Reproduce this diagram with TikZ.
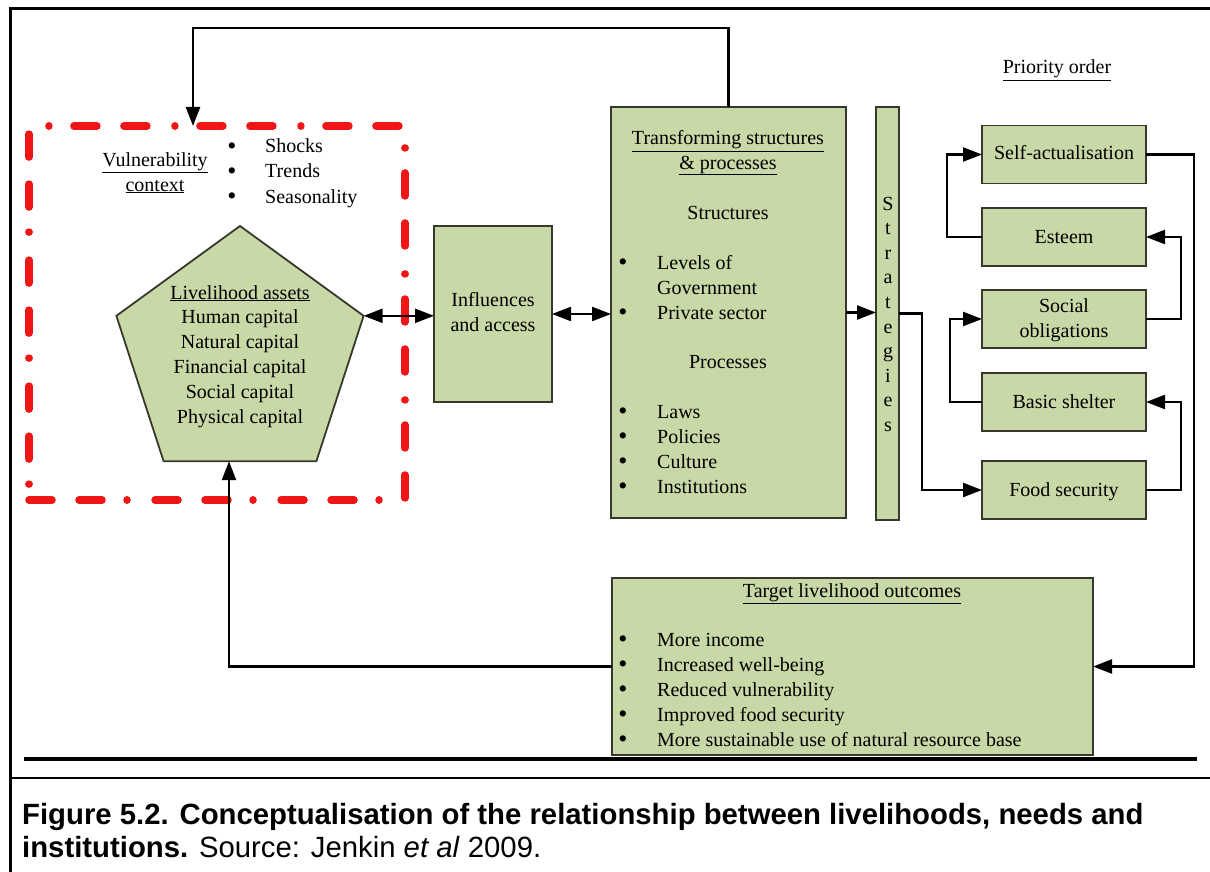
\documentclass[tikz,border=0pt]{standalone}
\usepackage{fontspec}
\setmainfont{Liberation Serif}
\newfontfamily\capfont{Liberation Sans}
\usetikzlibrary{shapes.geometric,arrows.meta}
\definecolor{boxgreen}{RGB}{200,216,166}
\definecolor{boxline}{RGB}{55,57,45}
\definecolor{vred}{RGB}{240,22,22}
\newcommand\bul{\raisebox{-1.2pt}{\fontsize{26}{26}\selectfont\textbullet}}
\begin{document}
\begin{tikzpicture}[x=1pt,y=-1pt,
  font=\fontsize{20}{25}\selectfont,
  box/.style={draw=boxline,line width=1.8pt,fill=boxgreen,inner sep=0pt,outer sep=0pt},
  rbox/.style={box,minimum width=164pt,minimum height=58pt},
  conn/.style={line width=2.3pt,line join=miter},
  arr/.style={conn,-{Triangle[length=19pt,width=14pt]}},
  darr/.style={conn,{Triangle[length=19pt,width=14pt]}-{Triangle[length=19pt,width=14pt]}},
  txt/.style={anchor=base,inner sep=0pt},
  ltxt/.style={anchor=base west,inner sep=0pt},
  captxt/.style={anchor=base west,inner sep=0pt,font=\capfont\fontsize{29.3}{33}\selectfont},
]
\useasboundingbox (0,0) rectangle (1210,872);
% frame
\draw[line width=3pt] (10,872) -- (10,9) -- (1210,9);
\draw[line width=2.5pt] (10,778) -- (1210,778);
\draw[line width=3.5pt] (24,759) -- (1197,759);

% vulnerability context
\node[draw=vred,line width=7.5pt,line cap=round,
      dash pattern=on 23pt off 27pt on 23pt off 25pt on 0.01pt off 28pt,
      minimum width=376pt,minimum height=374pt,inner sep=0pt,outer sep=0pt] (vuln) at (217,313) {};
\node[txt] (vc1) at (155,166) {\underline{Vulnerability}};
\node[txt] (vc2) at (155,191) {\underline{context}};
\foreach \t/\y [count=\i] in {Shocks/153,Trends/178,Seasonality/203}{
  \node[txt] (vb\i) at (232,\y) {\bul};
  \node[ltxt] (vt\i) at (265,\y) {\t};
}

% livelihood assets pentagon
\node[box,regular polygon,regular polygon sides=5,minimum size=260pt] (assets) at (240,356) {};
\node[txt] (la0) at (240,299) {\underline{Livelihood assets}};
\foreach \t [count=\i] in {Human capital,Natural capital,Financial capital,Social capital,Physical capital}
  \node[txt] (la\i) at (240,{299+24.8*\i}) {\t};

% influences
\node[box,minimum width=118pt,minimum height=176pt] (infl) at (493,314) {};
\node[txt] (inf1) at (493,306) {Influences};
\node[txt] (inf2) at (493,331) {and access};

% transforming structures
\node[box,minimum width=235pt,minimum height=411pt] (trans) at (728.5,312.5) {};
\node[txt] (tr1) at (728,145) {\underline{Transforming structures}};
\node[txt] (tr2) at (728,169) {\underline{\& processes}};
\node[txt] (tr3) at (728,219) {Structures};
\node[txt] (tr4) at (728,368) {Processes};
\node[txt] (trb1) at (623,269) {\bul};
\node[ltxt] (trt1) at (657,269) {Levels of};
\node[ltxt] (trt2) at (657,294) {Government};
\node[txt] (trb3) at (623,319) {\bul};
\node[ltxt] (trt3) at (657,319) {Private sector};
\foreach \t/\y [count=\i] in {Laws/418,Policies/443,Culture/468,Institutions/493}{
  \node[txt] (tpb\i) at (623,\y) {\bul};
  \node[ltxt] (tpt\i) at (657,\y) {\t};
}

% strategies
\node[box,minimum width=23pt,minimum height=413pt] (strat) at (887.5,313.5) {};
\foreach \l [count=\i from 0] in {S,t,r,a,t,e,g,i,e,s}
  \node[txt] (sl\i) at (888,{210+24.6*\i}) {\l};

% priority order
\node[txt] (prio) at (1057,74) {\underline{Priority order}};
\node[rbox] (sa) at (1064,154.5) {};
\node[txt] (sat) at (1064,160) {Self-actualisation};
\node[rbox] (est) at (1064,237) {};
\node[txt] (estt) at (1064,243) {Esteem};
\node[rbox] (so) at (1064,319) {};
\node[txt] (sot1) at (1064,312) {Social};
\node[txt] (sot2) at (1064,337) {obligations};
\node[rbox] (bs) at (1064,402) {};
\node[txt] (bst) at (1064,408) {Basic shelter};
\node[rbox] (fs) at (1064,490) {};
\node[txt] (fst) at (1064,496) {Food security};

% target outcomes
\node[box,minimum width=481pt,minimum height=177pt] (target) at (852.5,666.5) {};
\node[txt] (tg0) at (852,597) {\underline{Target livelihood outcomes}};
\foreach \t [count=\i] in {More income,Increased well-being,Reduced vulnerability,Improved food security,More sustainable use of natural resource base}{
  \node[txt] (tgb\i) at (623,{621+25*\i}) {\bul};
  \node[ltxt] (tgt\i) at (657,{621+25*\i}) {\t};
}

% connectors
\draw[darr] (assets.corner 5) -- (infl.west |- assets.corner 5);
\draw[darr] (infl.east) -- (trans.west |- infl.east);
\draw[arr] (trans.east) -- (strat.west |- trans.east);
\draw[arr] (trans.north) -- ++(0,-79) -| ([xshift=-24pt]vuln.north);
\draw[arr] (target.west) -| ([xshift=-11pt]assets.south);
\draw[arr] (strat.east) -- ++(23,0) |- (fs.west);
\draw[arr] (est.west) -- ++(-35,0) |- (sa.west);
\draw[arr] (bs.west) -- ++(-32,0) |- (so.west);
\draw[arr] (so.east) -- ++(35,0) |- (est.east);
\draw[arr] (fs.east) -- ++(35,0) |- (bs.east);
\draw[arr] (sa.east) -- ++(48,0) |- (target.east);

% caption
\node[captxt] (cap1) at (22,824) {\bfseries Figure 5.2. Conceptualisation of the relationship between livelihoods, needs and};
\node[captxt] (cap2) at (22,857) {\bfseries institutions.\mdseries{} Source: Jenkin \textit{et al} 2009.};
\end{tikzpicture}
\end{document}
